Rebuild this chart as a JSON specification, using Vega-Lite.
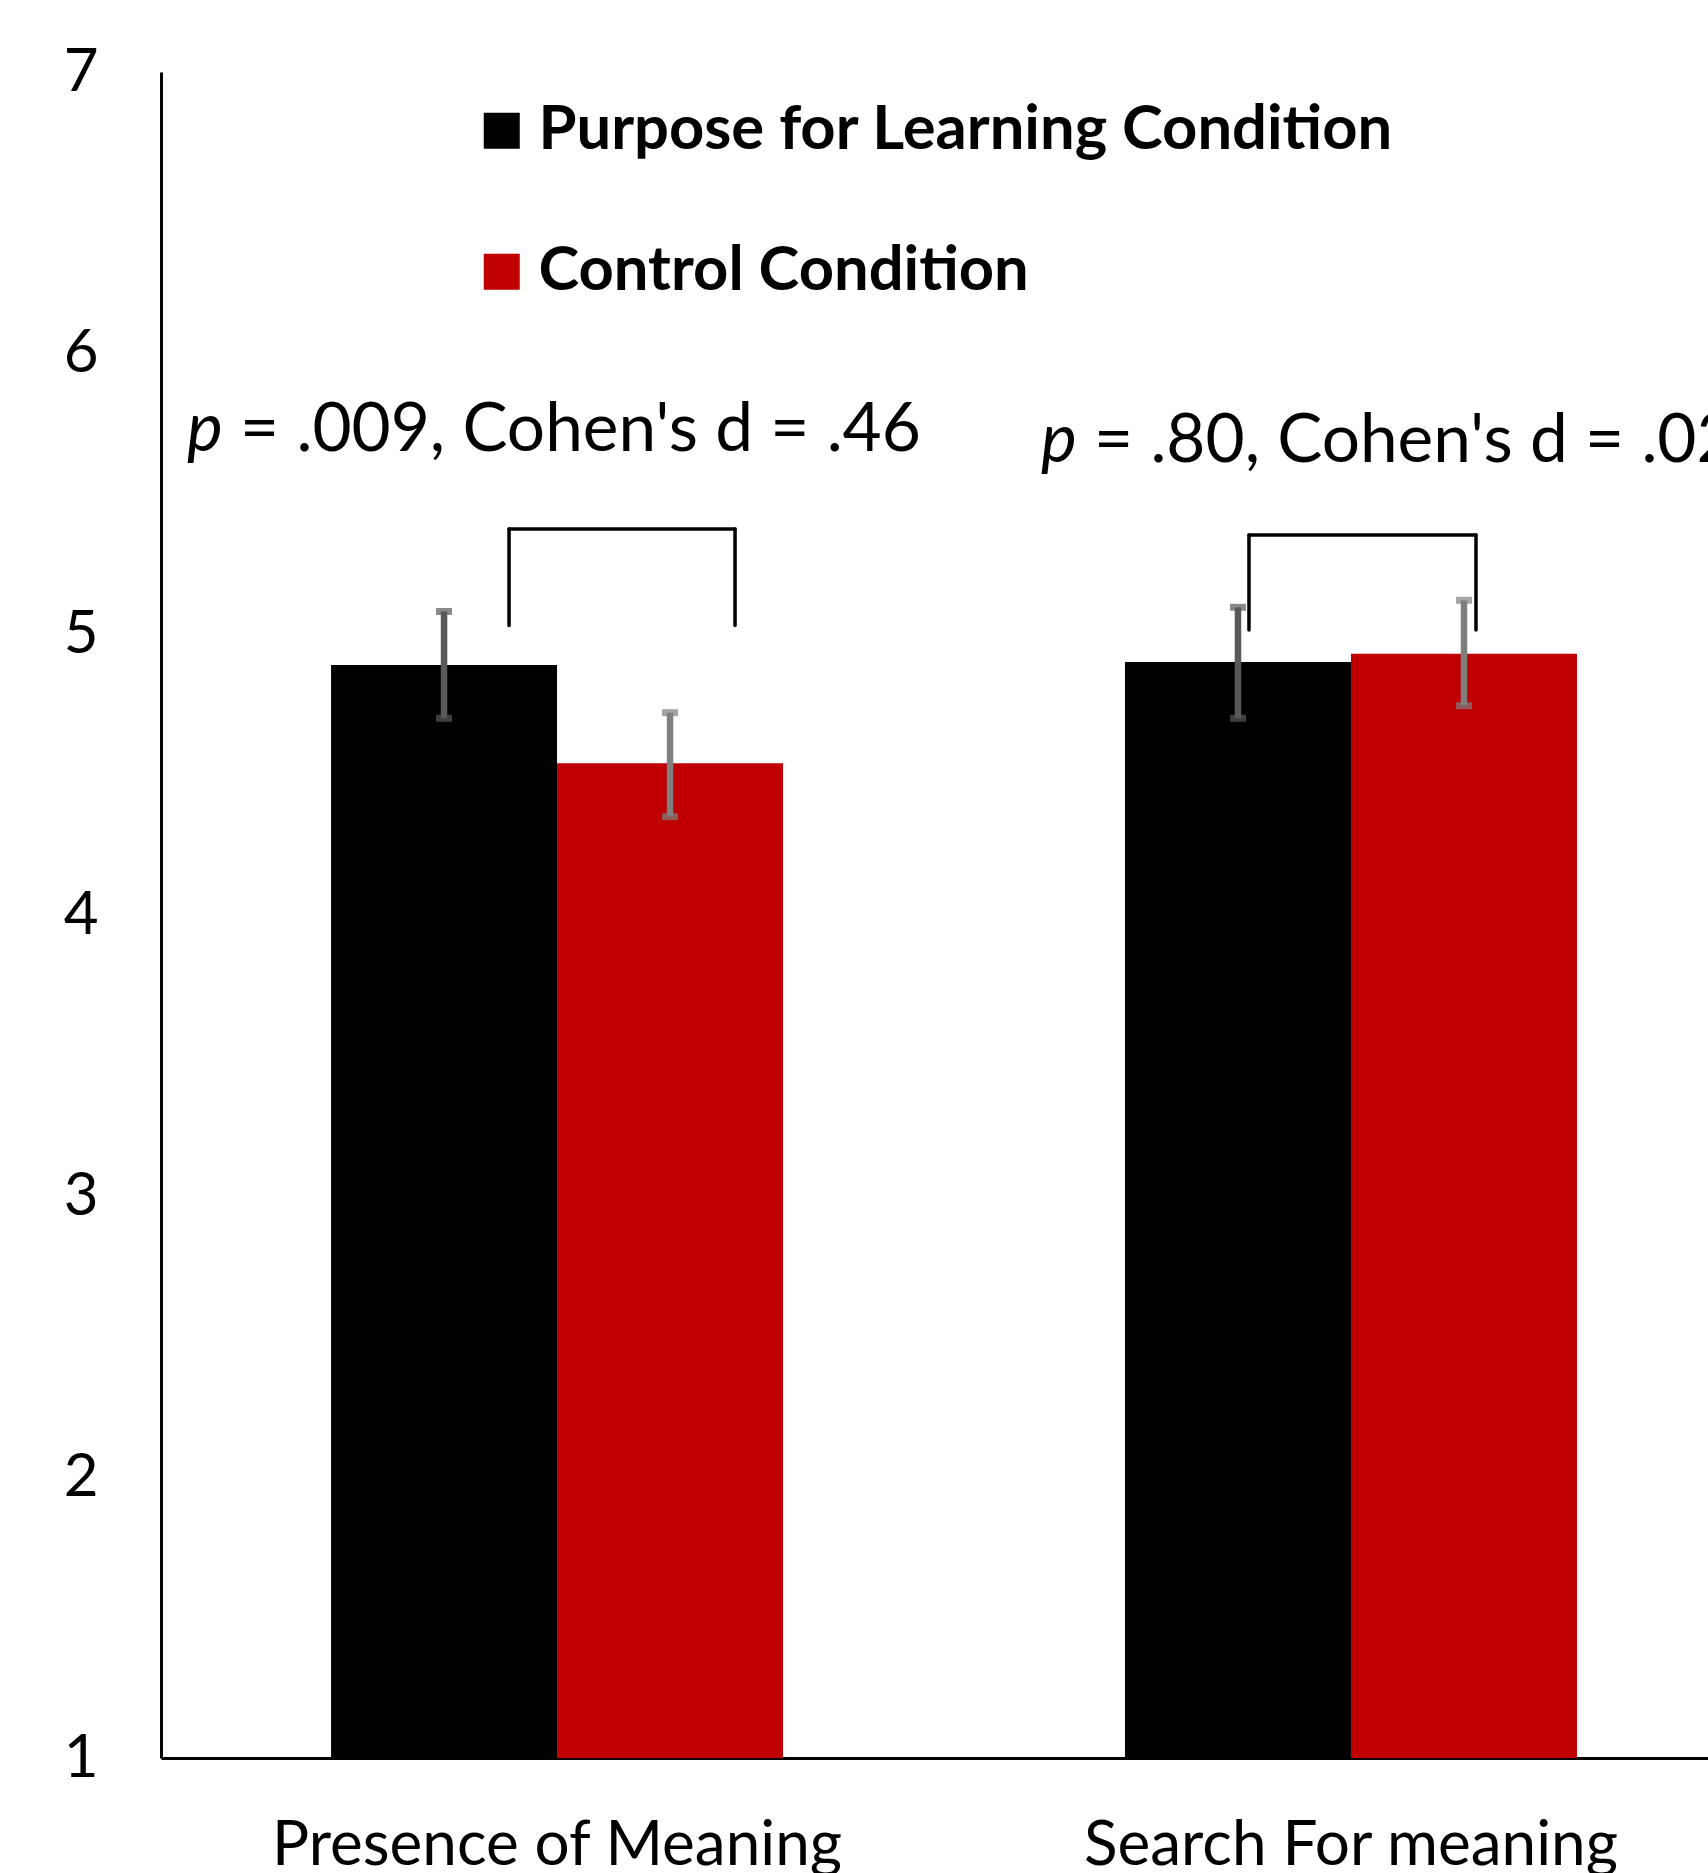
{
  "$schema": "https://vega.github.io/schema/vega-lite/v6.json",
  "width": 1547,
  "height": 1686,
  "autosize": {"type": "none"},
  "padding": {"left": 161, "top": 72, "right": 0, "bottom": 115},
  "background": "white",
  "config": {"view": {"stroke": null}, "font": "Lato"},
  "datasets": {
    "bars": [
      {"measure": "Presence of Meaning", "cond": "Purpose for Learning Condition", "mean": 4.89, "lo": 4.70, "hi": 5.08},
      {"measure": "Presence of Meaning", "cond": "Control Condition", "mean": 4.54, "lo": 4.35, "hi": 4.72},
      {"measure": "Search For meaning", "cond": "Purpose for Learning Condition", "mean": 4.90, "lo": 4.70, "hi": 5.095},
      {"measure": "Search For meaning", "cond": "Control Condition", "mean": 4.93, "lo": 4.745, "hi": 5.12}
    ],
    "brackets": [
      {"measure": "Presence of Meaning", "bottom": 5.03, "top": 5.374},
      {"measure": "Search For meaning", "bottom": 5.014, "top": 5.352}
    ],
    "notes": [
      {"measure": "Presence of Meaning", "part": "p", "label": "p", "y": 5.651},
      {"measure": "Presence of Meaning", "part": "rest", "label": "= .009, Cohen's d = .46", "y": 5.651},
      {"measure": "Search For meaning", "part": "p", "label": "p", "y": 5.613},
      {"measure": "Search For meaning", "part": "rest", "label": "= .80, Cohen's d = .02", "y": 5.613}
    ]
  },
  "encoding": {
    "x": {
      "field": "measure",
      "type": "nominal",
      "sort": ["Presence of Meaning", "Search For meaning"],
      "title": null,
      "scale": {"paddingInner": 0.4307, "paddingOuter": 0.1896, "align": 0.5648},
      "axis": {
        "domainColor": "#000000",
        "domainWidth": 3,
        "ticks": false,
        "tickSize": 0,
        "labelFont": "Lato",
        "labelFontSize": 62,
        "labelColor": "#000000",
        "labelAngle": 0,
        "labelBaseline": "alphabetic",
        "labelPadding": 106,
        "labelLimit": 0,
        "grid": false
      }
    }
  },
  "layer": [
    {
      "data": {"name": "bars"},
      "mark": {"type": "bar", "strokeWidth": 0},
      "encoding": {
        "xOffset": {"field": "cond", "type": "nominal", "sort": ["Purpose for Learning Condition", "Control Condition"], "scale": {"paddingInner": 0, "paddingOuter": 0}},
        "y": {
          "field": "mean",
          "type": "quantitative",
          "title": null,
          "scale": {"domain": [1, 7], "nice": false, "zero": false},
          "axis": {
            "values": [1, 2, 3, 4, 5, 6, 7],
            "format": "d",
            "domainColor": "#000000",
            "domainWidth": 3,
            "ticks": false,
            "tickSize": 0,
            "grid": false,
            "labelFont": "Lato",
            "labelFontSize": 60,
            "labelColor": "#000000",
            "labelPadding": 63,
            "labelAlign": "right",
            "labelBaseline": "middle"
          }
        },
        "y2": {"datum": 1},
        "color": {
          "field": "cond",
          "type": "nominal",
          "scale": {"domain": ["Purpose for Learning Condition", "Control Condition"], "range": ["#000000", "#C00000"]},
          "legend": {
            "title": null,
            "orient": "none",
            "legendX": 310,
            "legendY": 28,
            "padding": 0,
            "symbolType": "square",
            "symbolSize": 1296,
            "symbolStrokeWidth": 0,
            "symbolOpacity": 1,
            "labelFont": "Lato",
            "labelFontSize": 61.5,
            "labelFontWeight": "bold",
            "labelColor": "#000000",
            "labelOffset": 6,
            "labelLimit": 2000,
            "rowPadding": 78
          }
        }
      }
    },
    {
      "data": {"name": "bars"},
      "mark": {"type": "rule", "strokeWidth": 6.5},
      "encoding": {
        "xOffset": {"field": "cond", "type": "nominal", "sort": ["Purpose for Learning Condition", "Control Condition"], "scale": {"paddingInner": 0, "paddingOuter": 0}},
        "y": {"field": "lo", "type": "quantitative", "scale": {"domain": [1, 7], "nice": false, "zero": false}},
        "y2": {"field": "hi"},
        "color": {"condition": {"test": "datum.cond === 'Control Condition'", "value": "#7f7f7f"}, "value": "#595959"}
      }
    },
    {
      "data": {"name": "bars"},
      "mark": {"type": "tick", "size": 16, "thickness": 7, "orient": "horizontal"},
      "encoding": {
        "xOffset": {"field": "cond", "type": "nominal", "sort": ["Purpose for Learning Condition", "Control Condition"], "scale": {"paddingInner": 0, "paddingOuter": 0}},
        "y": {"field": "lo", "type": "quantitative", "scale": {"domain": [1, 7], "nice": false, "zero": false}},
        "color": {"condition": {"test": "datum.cond === 'Control Condition'", "value": "#7f7f7f"}, "value": "#595959"}
      }
    },
    {
      "data": {"name": "bars"},
      "mark": {"type": "tick", "size": 16, "thickness": 7, "orient": "horizontal"},
      "encoding": {
        "xOffset": {"field": "cond", "type": "nominal", "sort": ["Purpose for Learning Condition", "Control Condition"], "scale": {"paddingInner": 0, "paddingOuter": 0}},
        "y": {"field": "hi", "type": "quantitative", "scale": {"domain": [1, 7], "nice": false, "zero": false}},
        "color": {"condition": {"test": "datum.cond === 'Control Condition'", "value": "#7f7f7f"}, "value": "#595959"}
      }
    },
    {
      "data": {"name": "brackets"},
      "transform": [{"filter": "datum.measure === 'Presence of Meaning'"}],
      "layer": [
        {"mark": {"type": "rule", "color": "#000000", "strokeWidth": 3.5, "strokeCap": "round", "xOffset": -48},
         "encoding": {"y": {"field": "bottom", "type": "quantitative", "scale": {"domain": [1, 7], "nice": false, "zero": false}}, "y2": {"field": "top"}}},
        {"mark": {"type": "rule", "color": "#000000", "strokeWidth": 3.5, "strokeCap": "round", "xOffset": 178},
         "encoding": {"y": {"field": "bottom", "type": "quantitative", "scale": {"domain": [1, 7], "nice": false, "zero": false}}, "y2": {"field": "top"}}},
        {"mark": {"type": "rule", "color": "#000000", "strokeWidth": 3.5, "strokeCap": "round", "xOffset": -48, "x2Offset": 178},
         "encoding": {"x2": {"field": "measure"}, "y": {"field": "top", "type": "quantitative", "scale": {"domain": [1, 7], "nice": false, "zero": false}}}}
      ]
    },
    {
      "data": {"name": "brackets"},
      "transform": [{"filter": "datum.measure === 'Search For meaning'"}],
      "layer": [
        {"mark": {"type": "rule", "color": "#000000", "strokeWidth": 3.5, "strokeCap": "round", "xOffset": -102},
         "encoding": {"y": {"field": "bottom", "type": "quantitative", "scale": {"domain": [1, 7], "nice": false, "zero": false}}, "y2": {"field": "top"}}},
        {"mark": {"type": "rule", "color": "#000000", "strokeWidth": 3.5, "strokeCap": "round", "xOffset": 125},
         "encoding": {"y": {"field": "bottom", "type": "quantitative", "scale": {"domain": [1, 7], "nice": false, "zero": false}}, "y2": {"field": "top"}}},
        {"mark": {"type": "rule", "color": "#000000", "strokeWidth": 3.5, "strokeCap": "round", "xOffset": -102, "x2Offset": 125},
         "encoding": {"x2": {"field": "measure"}, "y": {"field": "top", "type": "quantitative", "scale": {"domain": [1, 7], "nice": false, "zero": false}}}}
      ]
    },
    {
      "data": {"name": "notes"},
      "transform": [{"filter": "datum.measure === 'Presence of Meaning' && datum.part === 'p'"}],
      "mark": {"type": "text", "font": "Lato", "fontSize": 67.5, "fontStyle": "italic", "align": "left", "baseline": "alphabetic", "dx": -370, "color": "#000000"},
      "encoding": {
        "y": {"field": "y", "type": "quantitative", "scale": {"domain": [1, 7], "nice": false, "zero": false}},
        "text": {"field": "label"}
      }
    },
    {
      "data": {"name": "notes"},
      "transform": [{"filter": "datum.measure === 'Presence of Meaning' && datum.part === 'rest'"}],
      "mark": {"type": "text", "font": "Lato", "fontSize": 67.5, "align": "left", "baseline": "alphabetic", "dx": -317, "color": "#000000"},
      "encoding": {
        "y": {"field": "y", "type": "quantitative", "scale": {"domain": [1, 7], "nice": false, "zero": false}},
        "text": {"field": "label"}
      }
    },
    {
      "data": {"name": "notes"},
      "transform": [{"filter": "datum.measure === 'Search For meaning' && datum.part === 'p'"}],
      "mark": {"type": "text", "font": "Lato", "fontSize": 67.5, "fontStyle": "italic", "align": "left", "baseline": "alphabetic", "dx": -310, "color": "#000000"},
      "encoding": {
        "y": {"field": "y", "type": "quantitative", "scale": {"domain": [1, 7], "nice": false, "zero": false}},
        "text": {"field": "label"}
      }
    },
    {
      "data": {"name": "notes"},
      "transform": [{"filter": "datum.measure === 'Search For meaning' && datum.part === 'rest'"}],
      "mark": {"type": "text", "font": "Lato", "fontSize": 67.5, "align": "left", "baseline": "alphabetic", "dx": -257, "color": "#000000"},
      "encoding": {
        "y": {"field": "y", "type": "quantitative", "scale": {"domain": [1, 7], "nice": false, "zero": false}},
        "text": {"field": "label"}
      }
    }
  ]
}
